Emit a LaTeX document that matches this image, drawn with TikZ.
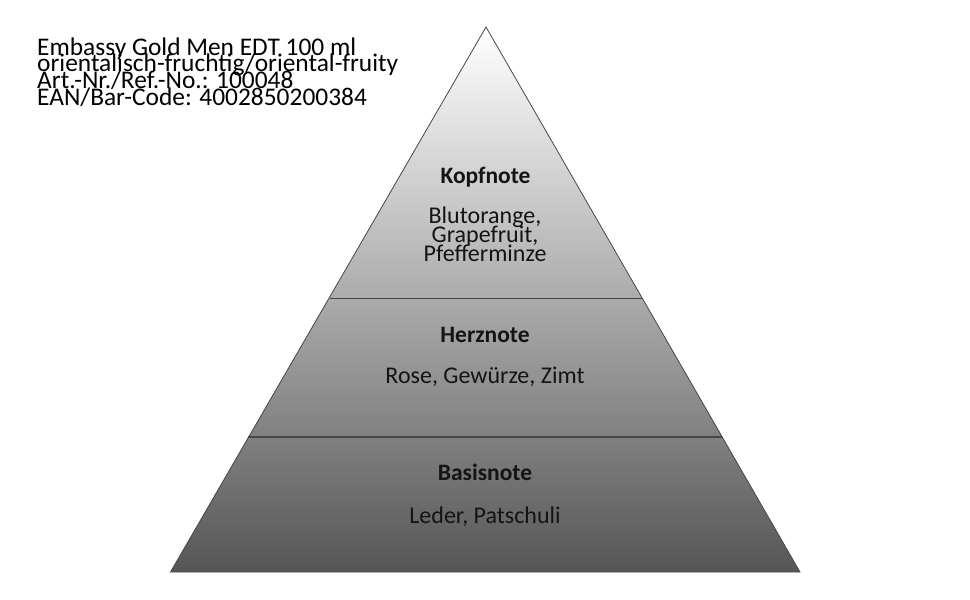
\documentclass[tikz,border=0pt]{standalone}
\usepackage{fontspec}
\setmainfont{Carlito}
\definecolor{edgegray}{RGB}{70,70,70}
\definecolor{basegray}{RGB}{86,86,86}
\definecolor{txt}{RGB}{20,20,20}
\begin{document}
\begin{tikzpicture}[x=1pt,y=-1pt,
  titletext/.style={anchor=base west,inner sep=0pt,font=\fontsize{25.4}{25.4}\selectfont,text=black},
  headtext/.style={anchor=base,inner sep=0pt,font=\bfseries\fontsize{23.5}{23.5}\selectfont,text=txt},
  bodytext/.style={anchor=base,inner sep=0pt,font=\fontsize{24}{24}\selectfont,text=txt},
  divider/.style={draw=edgegray,line width=1.3pt},
  outline/.style={draw=edgegray,line width=0.8pt}]
\useasboundingbox (0,0) rectangle (970,600);
\coordinate (apex) at (486,27);
\coordinate (bl) at (170.5,572);
\coordinate (br) at (800,572);
\coordinate (l1) at (330,298.5);
\coordinate (r1) at (642.5,298.5);
\coordinate (l2) at (248,437);
\coordinate (r2) at (722,437);
\shade[top color=white,bottom color=basegray] (apex) -- (br) -- (bl) -- cycle;
\draw[outline,line join=miter] (apex) -- (br) -- (bl) -- cycle;
\draw[divider] (l1) -- (r1);
\draw[divider] (l2) -- (r2);
% title
\node[titletext] (t1) at (37,55) {Embassy Gold Men EDT 100 ml};
\node[titletext] (t2) at (37,71.7) {orientalisch-fruchtig/oriental-fruity};
\node[titletext] (t3) at (37,88.4) {Art.-Nr./Ref.-No.: 100048};
\node[titletext] (t4) at (37,105.1) {EAN/Bar-Code: 4002850200384};
% labels
\node[headtext] (kopf) at (485.5,183.3) {Kopfnote};
\node[bodytext] (k1) at (485,223.5) {Blutorange,};
\node[bodytext] (k2) at (485,242.5) {Grapefruit,};
\node[bodytext] (k3) at (485,261.5) {Pfefferminze};
\node[headtext] (herz) at (485,342.7) {Herznote};
\node[bodytext] (h1) at (485,383.5) {Rose, Gewürze, Zimt};
\node[headtext] (basis) at (485,480.7) {Basisnote};
\node[bodytext] (b1) at (485,523) {Leder, Patschuli};
\end{tikzpicture}
\end{document}
